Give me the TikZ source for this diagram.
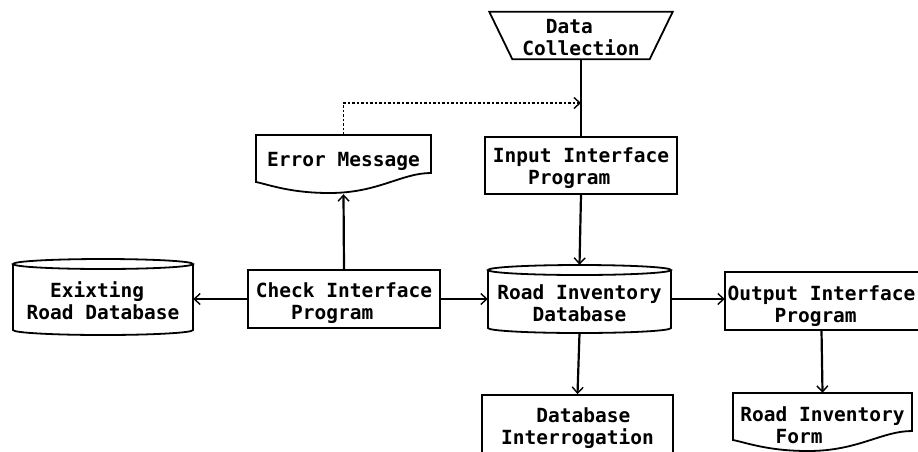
\documentclass[tikz,border=0pt]{standalone}
\usepackage{fontspec}
\setmonofont{DejaVu Sans Mono}
\usetikzlibrary{arrows.meta}

% document symbol: left x, top y, right x (y grows downwards)
\newcommand\docpath[3]{%
  \pgfmathsetmacro\dw{#3-#1}%
  \draw[outline] (#1,#2) -- (#3,#2) -- (#3,#2+38)
    .. controls ({#3-0.17*\dw},{#2+38}) and ({#3-0.30*\dw},{#2+58}) .. ({#1+0.42*\dw},{#2+58})
    .. controls ({#1+0.2*\dw},{#2+58}) and ({#1+0.08*\dw},{#2+50}) .. (#1,#2+47) -- cycle;}

% database cylinder: left x, top y, right x, bottom y
\newcommand\cylpath[4]{%
  \pgfmathsetmacro\cylcx{(#1+#3)/2}%
  \pgfmathsetmacro\cylrx{(#3-#1)/2}%
  \draw[outline] (\cylcx,#2+5) ellipse [x radius=\cylrx pt, y radius=5pt];
  \draw[outline] (#1,#2+5) -- (#1,#4-5)
    .. controls (#1,#4-2.24) and ({\cylcx-0.552*\cylrx},#4) .. (\cylcx,#4)
    .. controls ({\cylcx+0.552*\cylrx},#4) and (#3,#4-2.24) .. (#3,#4-5) -- (#3,#2+5);}

\begin{document}
\begin{tikzpicture}[x=1pt,y=-1pt,
  outline/.style={line width=1.8pt, line join=miter},
  lbl/.style={font=\ttfamily\bfseries\fontsize{19.5}{22}\selectfont,
    align=left, inner sep=0pt, text height=15pt, text depth=0pt},
  twolines/.style={text height=#1},
  boxed/.style={lbl, draw, line width=1.8pt},
  tip/.style={-{Straight Barb[length=6pt,width=11pt,line width=1.4pt]}},
  vflow/.style={tip, line width=2.2pt},
  hflow/.style={tip, line width=1.3pt},
  plain/.style={line width=2.2pt},
  errflow/.style={tip, line width=1.8pt, dash pattern=on 2.5pt off 2pt}]

\path[use as bounding box] (0,0) rectangle (918,451);
\clip (0,0) rectangle (918,451);
\fill[white] (0,0) rectangle (918,451);

% --- nodes ---
\node[lbl, twolines=39pt, minimum width=137, minimum height=47] (data) at (581,35.5)
  {\hphantom{Co}Data\\Collection};
\draw[outline] ([xshift=-23pt]data.north west) -- ([xshift=23pt]data.north east)
  -- (data.south east) -- (data.south west) -- cycle;

\node[boxed, twolines=38pt, minimum width=192, minimum height=57] (input) at (581,165.5)
  {Input Interface\\\hphantom{Inp}Program};

\node[lbl, minimum width=175, minimum height=58, text depth=10pt] (err) at (343.5,164)
  {Error Message};
\docpath{256}{135}{431}

\node[boxed, twolines=41pt, minimum width=192, minimum height=58] (check) at (344,299)
  {Check Interface\\\hphantom{Che}Program};

\node[lbl, twolines=45pt, minimum width=180, minimum height=76] (exist) at (103,297)
  {\hphantom{Ro}Exixting\\Road Database};
\cylpath{13}{259}{193}{335}

\node[lbl, twolines=44pt, minimum width=183, minimum height=68] (roadinv) at (579.5,299)
  {Road Inventory\\\hphantom{Roa}Database};
\cylpath{488}{265}{671}{333}

\node[lbl, twolines=42pt, minimum width=193, minimum height=58] (output) at (821.5,301)
  {Output Interface\\\hphantom{Outp}Program};
\draw[outline] (output.north west) rectangle ([xshift=10pt]output.south east);

\node[boxed, twolines=37pt, minimum width=191, minimum height=62] (dbint) at (577.5,426)
  {\hphantom{Int}Database\\Interrogation};

\node[lbl, twolines=43pt, minimum width=179, minimum height=58] (form) at (822.5,422)
  {Road Inventory\\\hphantom{Roa}Form};
\docpath{733}{393}{912}

% --- connectors ---
\coordinate (junc) at (581,103);
\draw[plain] (data.south) -- (input.north);
\draw[vflow] (input.south) -- (roadinv.north);
\draw[vflow] (check.north) -- ([yshift=-1pt]err.south);
\draw[errflow] (err.north) -- (err.north |- junc) -- (junc);
\draw[hflow] (check.west) -- (check.west -| exist.east);
\draw[hflow] (check.east) -- (check.east -| roadinv.west);
\draw[hflow] (roadinv.east) -- (roadinv.east -| output.west);
\draw[vflow] (roadinv.south) -- (dbint.north);
\draw[vflow] (output.south) -- (form.north);
\end{tikzpicture}
\end{document}
